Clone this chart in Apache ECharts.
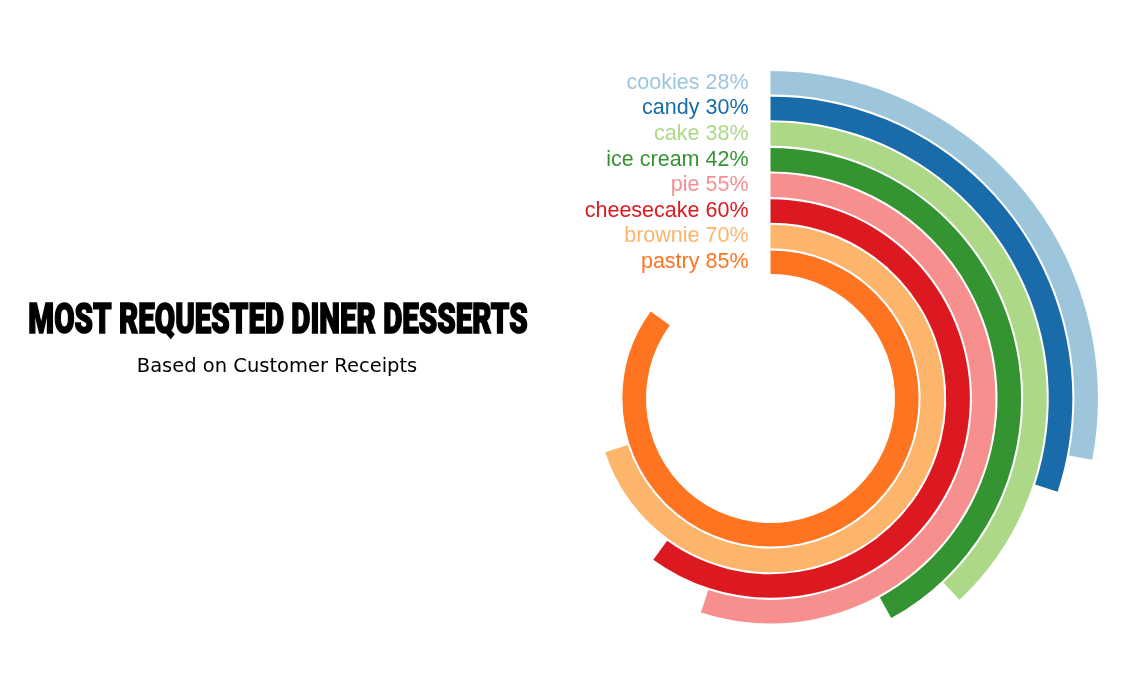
<!DOCTYPE html>
<html>
<head>
<meta charset="utf-8">
<script src="https://cdn.jsdelivr.net/npm/echarts@6/dist/echarts.min.js"></script>
<style>
html,body{margin:0;padding:0;background:#fff;}
#chart{width:1138px;height:698px;}
</style>
</head>
<body>
<div id="chart"></div>
<script>
// Data (innermost ring first)
const categories = ['pastry', 'brownie', 'cheesecake', 'pie', 'ice cream', 'cake', 'candy', 'cookies'];
const values = [85, 70, 60, 55, 42, 38, 30, 28];
const colors = ['#fe7420', '#fdb46b', '#dc1920', '#f88f8f', '#349431', '#acd888', '#196ca9', '#9dc6dc'];
const titleText = 'MOST REQUESTED DINER DESSERTS';
const subtitleText = 'Based on Customer Receipts';

const chart = echarts.init(document.getElementById('chart'), null, {renderer: 'canvas'});

const rich = {};
colors.forEach((c, i) => { rich['c' + i] = {color: c, fontSize: 21.5, fontFamily: 'Liberation Sans, Arial, sans-serif'}; });

const option = {
  animation: false,
  backgroundColor: '#fff',
  polar: {center: [770.5, 398.5], radius: [123.5, 328.5]},
  angleAxis: {
    type: 'value', min: 0, max: 100, startAngle: 90, clockwise: true,
    axisLine: {show: false}, axisTick: {show: false}, axisLabel: {show: false}, splitLine: {show: false}
  },
  radiusAxis: {
    type: 'category', data: categories,
    axisLine: {show: false}, axisTick: {show: false}, splitLine: {show: false},
    axisLabel: {
      interval: 0, margin: 22,
      formatter: function (v, i) { return '{c' + i + '|' + v + ' ' + values[i] + '%}'; },
      rich: rich
    }
  },
  series: [{
    type: 'bar', coordinateSystem: 'polar',
    data: values.map((v, i) => ({value: v, itemStyle: {color: colors[i]}})),
    barWidth: 23.6
  }],
  graphic: [
    {
      type: 'text', x: 278, y: 322, scaleX: 0.72, scaleY: 1.03,
      style: {
        text: titleText, fill: '#000', stroke: '#000', lineWidth: 1.6,
        align: 'center', verticalAlign: 'middle',
        font: '900 41px Roboto, "Liberation Sans", sans-serif'
      }
    },
    {
      type: 'text', x: 277, y: 367,
      style: {
        text: subtitleText, fill: '#000', align: 'center', verticalAlign: 'middle',
        font: '19.5px "DejaVu Sans", sans-serif'
      }
    }
  ]
};
chart.setOption(option);
</script>
</body>
</html>
